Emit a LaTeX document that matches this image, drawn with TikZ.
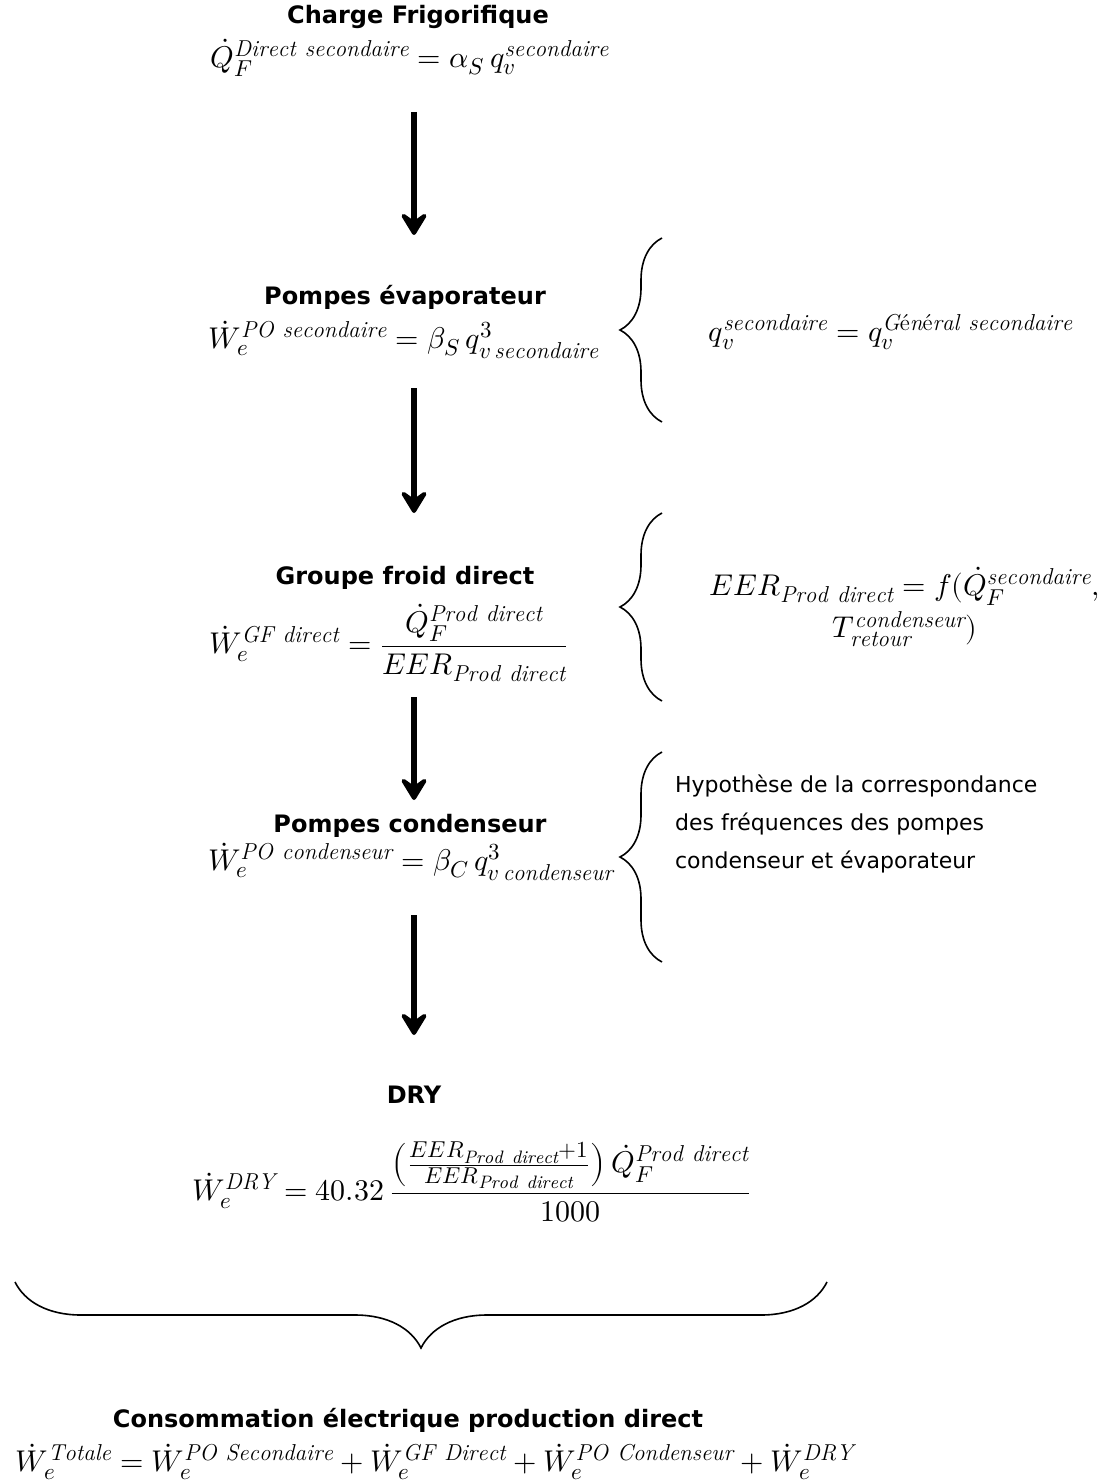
\documentclass[tikz,border=0pt]{standalone}
\usepackage{amsmath}
\usepackage{unicode-math}
\usepackage{tikz}
\usetikzlibrary{arrows.meta,decorations.pathreplacing}
\newfontfamily\comicfont{DejaVu Sans}
\DeclareMathSizes{15}{15}{11.5}{9}

\begin{document}
\begin{tikzpicture}[x=0.5pt,y=-0.5pt,
    heading/.style={font=\comicfont\bfseries\fontsize{12}{14}\selectfont},
    formula/.style={font=\fontsize{15}{18}\selectfont,inner sep=0pt},
    remark/.style={font=\comicfont\fontsize{11}{19}\selectfont,align=left},
    flow/.style={-{Stealth[length=14pt,width=17pt,inset=6pt,round]},line width=2.6pt},
    curly/.style={decorate,decoration={brace,amplitude=#1},line width=0.8pt}]
  \useasboundingbox (0,0) rectangle (1117,1481);
  % main column
  \node[heading] (charge) at (418,17) {Charge Frigorifique};
  \node[formula] (fcharge) at (410,58)
    {$\dot{Q}_F^{\mathit{Direct\ secondaire}} = \alpha_S\, q_v^{\mathit{secondaire}}$};
  \node[heading] (pevap) at (405,297) {Pompes évaporateur};
  \node[formula] (fpevap) at (404,340)
    {$\dot{W}_e^{\mathit{PO\ secondaire}} = \beta_S\, q^3_{v\,\mathit{secondaire}}$};
  \node[heading] (groupe) at (405,578) {Groupe froid direct};
  \node[formula] (fgroupe) at (389,643)
    {$\dot{W}_e^{\mathit{GF\ direct}} = \dfrac{\dot{Q}_F^{\mathit{Prod\ direct}}}{EER_{\mathit{Prod\ direct}}}$};
  \node[heading] (pcond) at (410,826) {Pompes condenseur};
  \node[formula] (fpcond) at (411,862)
    {$\dot{W}_e^{\mathit{PO\ condenseur}} = \beta_C\, q^3_{v\,\mathit{condenseur}}$};
  \node[heading] (dry) at (414,1095) {DRY};
  \node[formula] (fdry) at (472,1182)
    {$\dot{W}_e^{\mathit{DRY}} = 40.32\, \dfrac{\left(\frac{EER_{\mathit{Prod\ direct}}+1}{EER_{\mathit{Prod\ direct}}}\right)\dot{Q}_F^{\mathit{Prod\ direct}}}{1000}$};
  \node[heading] (conso) at (408,1420) {Consommation électrique production direct};
  \node[formula] (fconso) at (435,1462)
    {$\dot{W}_e^{\mathit{Totale}} = \dot{W}_e^{\mathit{PO\ Secondaire}} + \dot{W}_e^{\mathit{GF\ Direct}} + \dot{W}_e^{\mathit{PO\ Condenseur}} + \dot{W}_e^{\mathit{DRY}}$};
  % side notes
  \node[formula] (qsec) at (891,332)
    {$q_v^{\mathit{secondaire}} = q_v^{\mathit{G}\text{é}\mathit{n}\text{é}\mathit{ral\ secondaire}}$};
  \node[formula,align=center] (eer) at (905,607)
    {$EER_{\mathit{Prod\ direct}} = f(\dot{Q}_F^{\mathit{secondaire}},$\\[2pt]
     $T_{\mathit{retour}}^{\mathit{condenseur}})$};
  \node[remark,anchor=west] (hypo) at (668,824)
    {Hypothèse de la correspondance\\des fréquences des pompes\\condenseur et évaporateur};
  % arrows
  \coordinate (a1) at (414,112);  \coordinate (b1) at (414,235);
  \coordinate (a2) at (414,388);  \coordinate (b2) at (414,513);
  \coordinate (a3) at (414,697);  \coordinate (b3) at (414,800);
  \coordinate (a4) at (414,915);  \coordinate (b4) at (414,1035);
  \draw[flow] (a1) -- (b1);
  \draw[flow] (a2) -- (b2);
  \draw[flow] (a3) -- (b3);
  \draw[flow] (a4) -- (b4);
  % braces
  \coordinate (c1) at (662,422);  \coordinate (d1) at (662,238);
  \coordinate (c2) at (662,701);  \coordinate (d2) at (662,513);
  \coordinate (c3) at (662,962);  \coordinate (d3) at (662,752);
  \coordinate (c4) at (827,1282); \coordinate (d4) at (15,1282);
  \draw[curly=21pt] (c1) -- (d1);
  \draw[curly=21pt] (c2) -- (d2);
  \draw[curly=21pt] (c3) -- (d3);
  \draw[curly=33pt] (c4) -- (d4);
\end{tikzpicture}
\end{document}
